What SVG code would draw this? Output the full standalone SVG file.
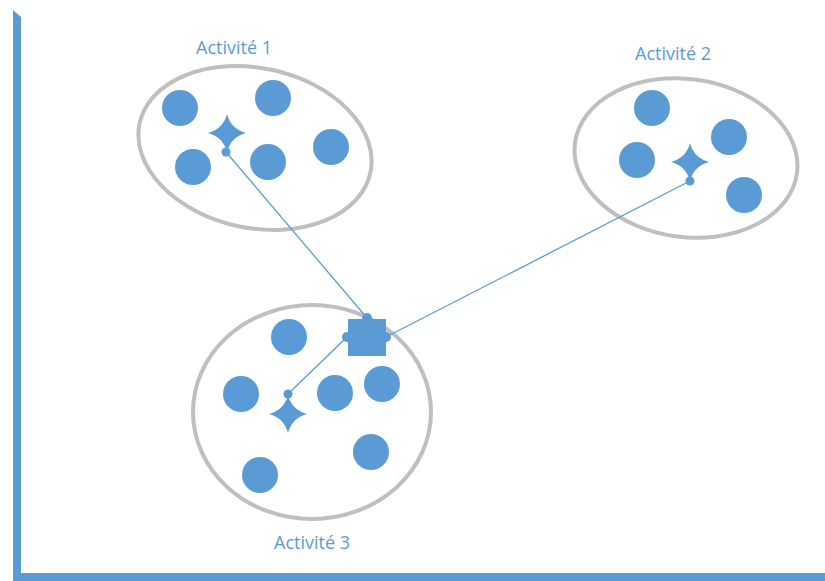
<svg xmlns="http://www.w3.org/2000/svg" width="825" height="581" viewBox="0 0 825 581">
<style>
.bg{fill:#ffffff}
.grp{fill:none;stroke:#bfbfbf;stroke-width:4}
.pt{fill:#5b9bd5}
.lbl{font-family:"Open Sans","Liberation Sans",sans-serif;font-size:18px;fill:#5b9bd5;text-anchor:middle}
.link{stroke:#5b9bd5;stroke-width:1.3;fill:none}
.dot{fill:#5b9bd5}
</style>
<defs>
<path id="star" d="M0,-19 Q4,-4 19,0 Q4,4 0,19 Q-4,4 -19,0 Q-4,-4 0,-19 Z"/>
</defs>
<rect class="bg" x="0" y="0" width="825" height="581"/>
<g id="axes">
<polygon class="pt" points="13,10 21,17 21,573 825,573 825,581 13,581"/>
</g>
<g id="activite1">
<ellipse class="grp" cx="255" cy="148" rx="118" ry="80" transform="rotate(12 255 148)"/>
<circle class="pt" cx="180" cy="108" r="18"/>
<circle class="pt" cx="273" cy="98" r="18"/>
<circle class="pt" cx="193" cy="167" r="18"/>
<circle class="pt" cx="268" cy="162" r="18"/>
<circle class="pt" cx="331" cy="147" r="18"/>
<use href="#star" class="pt" x="227" y="133"/>
<text class="lbl" x="234" y="54">Activité 1</text>
</g>
<g id="activite2">
<ellipse class="grp" cx="686" cy="158" rx="112" ry="79" transform="rotate(8 686 158)"/>
<circle class="pt" cx="652" cy="108" r="18"/>
<circle class="pt" cx="729" cy="137" r="18"/>
<circle class="pt" cx="637" cy="160" r="18"/>
<circle class="pt" cx="744" cy="195" r="18"/>
<use href="#star" class="pt" x="690" y="162"/>
<text class="lbl" x="673" y="60">Activité 2</text>
</g>
<g id="activite3">
<ellipse class="grp" cx="312" cy="412" rx="119" ry="107"/>
<circle class="pt" cx="289" cy="337" r="18"/>
<circle class="pt" cx="241" cy="394" r="18"/>
<circle class="pt" cx="335" cy="393" r="18"/>
<circle class="pt" cx="382" cy="384" r="18"/>
<circle class="pt" cx="371" cy="452" r="18"/>
<circle class="pt" cx="260" cy="475" r="18"/>
<use href="#star" class="pt" x="288" y="414"/>
<text class="lbl" x="312" y="549">Activité 3</text>
</g>
<g id="hub">
<rect class="pt" x="348" y="319" width="38" height="37"/>
</g>
<g id="connectors">
<line class="link" x1="226" y1="152" x2="367" y2="318"/>
<line class="link" x1="690" y1="181" x2="386" y2="337"/>
<line class="link" x1="288" y1="394" x2="347" y2="337"/>
<circle class="dot" cx="226" cy="152" r="4.5"/>
<circle class="dot" cx="690" cy="181" r="4.5"/>
<circle class="dot" cx="288" cy="394" r="4.5"/>
<circle class="dot" cx="367" cy="318" r="5"/>
<circle class="dot" cx="386" cy="337" r="5"/>
<circle class="dot" cx="347" cy="337" r="5"/>
</g>
</svg>
